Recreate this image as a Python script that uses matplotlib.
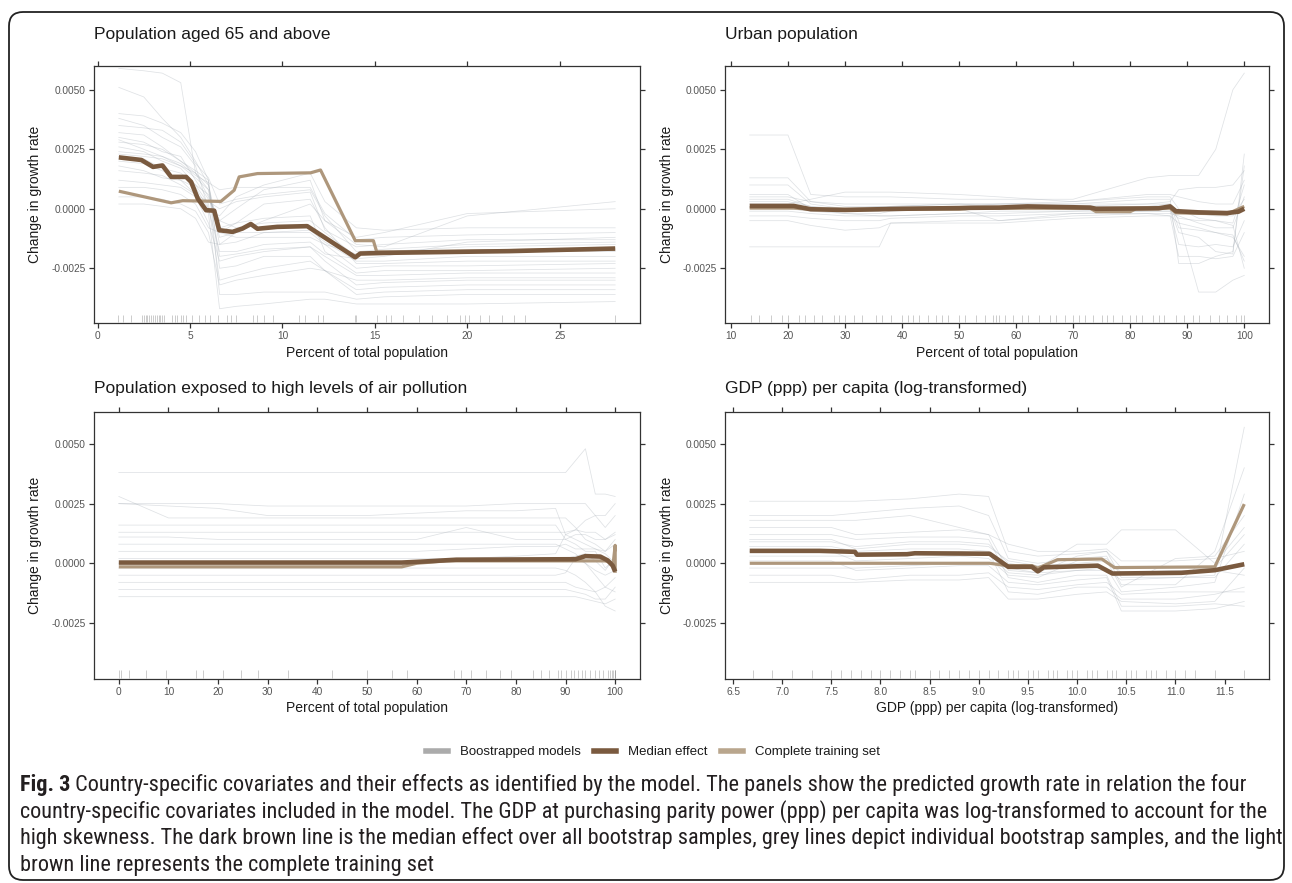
import numpy as np
import matplotlib
matplotlib.use('Agg')
import matplotlib.pyplot as plt
from matplotlib.lines import Line2D
from matplotlib.patches import FancyBboxPatch
from matplotlib import font_manager

# all growth-rate values below are in units of 1e-3
SCALE = 1e-3

# ---- Population aged 65 and above ----
age_grid = [1.15, 2.5, 3.5, 4.5, 5.3, 6.0, 6.6, 7.5, 9.0, 11.5, 12.3, 14.0, 15.5, 20.0, 28.0]
age_boot = [
    [5.9, 5.8, 5.7, 5.3, 1.5, 0.5, -0.5, -0.8, -0.6, -0.5, -1.0, -2.0, -1.8, -1.6, -1.5],
    [5.1, 4.7, 3.8, 3.0, 2.0, 1.0, -1.5, -1.4, -1.0, -1.0, -1.5, -2.5, -2.4, -2.4, -2.3],
    [4.0, 3.9, 3.6, 3.2, 2.4, 1.2, -3.6, -3.6, -3.5, -3.5, -3.5, -3.8, -3.7, -3.6, -3.6],
    [3.8, 3.5, 3.0, 2.6, 1.8, 0.0, -0.3, 0.5, 1.0, 1.5, 0.3, -0.8, -0.9, -0.8, -0.8],
    [3.2, 3.1, 2.6, 2.0, 1.6, 1.2, -2.5, -2.4, -2.0, -2.0, -2.6, -3.0, -3.0, -2.9, -2.9],
    [3.0, 2.8, 2.4, 2.2, 1.2, 0.4, -0.5, 0.0, 0.8, 1.2, -0.5, -1.2, -1.0, -0.2, 0.0],
    [2.8, 2.7, 2.5, 2.0, 1.5, 0.8, -1.2, -1.0, -1.0, -0.9, -1.4, -2.2, -2.2, -2.0, -2.0],
    [2.6, 2.4, 2.0, 1.7, 1.0, 0.2, -3.0, -2.8, -2.5, -2.2, -2.6, -3.4, -3.3, -3.2, -3.2],
    [2.4, 2.3, 2.2, 1.9, 1.4, 1.1, 0.8, 0.9, 0.9, 0.9, -0.2, -1.3, -1.2, -1.1, -1.0],
    [2.2, 2.1, 1.7, 1.5, 1.0, 0.6, -0.8, -0.6, -0.4, -0.3, -1.8, -2.7, -2.6, -2.6, -2.5],
    [2.0, 1.9, 1.6, 1.2, 0.9, 0.0, -1.8, -1.8, -1.5, -1.4, -1.9, -2.1, -2.0, -1.4, -1.2],
    [1.8, 1.6, 1.3, 1.2, 0.6, -0.2, -4.2, -4.1, -4.0, -3.8, -3.8, -4.0, -4.0, -4.0, -3.9],
    [1.6, 1.5, 1.4, 1.0, 0.6, 0.3, 0.0, 0.3, 0.5, 0.7, -0.9, -1.6, -1.5, -1.3, -1.3],
    [1.2, 1.1, 1.0, 0.9, 0.5, -0.6, -2.2, -2.0, -1.8, -1.6, -2.0, -2.8, -2.8, -2.7, -2.7],
    [0.9, 0.9, 0.8, 0.6, 0.2, -0.8, -1.0, -1.2, -1.2, -1.2, -1.5, -1.9, -1.9, -1.8, -1.8],
    [0.5, 0.5, 0.4, 0.2, -0.1, -1.0, -3.2, -3.0, -2.8, -2.5, -2.6, -3.6, -3.5, -3.4, -3.4],
    [0.2, 0.2, 0.1, 0.0, -0.4, -1.4, -1.5, -1.0, -0.5, 0.2, -0.5, -1.5, -1.6, -0.3, 0.3],
    [3.5, 3.4, 3.3, 2.8, 1.9, 1.3, 0.2, 0.4, 0.6, 0.8, -0.3, -1.8, -1.7, -1.5, -1.4],
    [2.9, 2.5, 2.2, 1.8, 1.3, 0.8, -2.0, -1.9, -1.7, -1.6, -2.2, -3.2, -3.1, -3.0, -3.0],
    [2.3, 2.2, 2.1, 1.8, 1.5, 1.0, -1.0, -0.6, 0.2, 0.4, -0.8, -2.3, -2.3, -2.2, -2.2],
]
age_median_x = [1.15, 2.37, 3.0, 3.51, 3.98, 4.79, 5.06, 5.42, 5.87, 6.31, 6.58, 7.30, 7.84,
                8.29, 8.65, 9.72, 11.34, 13.94, 14.21, 15.82, 22.28, 28.0]
age_median_y = [2.16, 2.05, 1.76, 1.82, 1.34, 1.34, 1.13, 0.43, -0.06, -0.08, -0.90, -0.97, -0.83,
                -0.64, -0.84, -0.76, -0.73, -2.04, -1.88, -1.85, -1.78, -1.67]
age_full_x = [1.15, 3.98, 4.61, 6.67, 7.39, 7.66, 8.65, 11.52, 12.06, 13.94, 14.92, 15.1, 16.0, 28.0]
age_full_y = [0.74, 0.25, 0.34, 0.31, 0.78, 1.34, 1.48, 1.51, 1.63, -1.34, -1.34, -1.81, -1.82, -1.70]
age_rug = [1.1, 1.4, 1.8, 2.4, 2.5, 2.6, 2.7, 2.8, 2.9, 3.0, 3.1, 3.2, 3.3, 3.4, 3.5, 3.6, 4.0, 4.2,
           4.3, 4.5, 4.6, 4.8, 5.1, 5.5, 5.8, 6.1, 6.5, 7.0, 7.2, 7.5, 8.4, 8.6, 9.0, 9.5, 10.9,
           11.2, 11.9, 12.2, 13.9, 14.0, 15.1, 15.6, 15.9, 16.5, 17.4, 18.1, 18.9, 19.6, 19.9,
           20.1, 20.7, 21.2, 21.9, 22.5, 23.1, 28.0]

# ---- Urban population ----
urban_grid = [13.3, 20, 24, 30, 36, 38, 50, 57, 70, 83, 87, 88.5, 92, 95, 98, 100]
urban_boot = [
    [3.1, 3.1, 0.6, 0.5, 0.5, 0.5, 0.4, 0.4, 0.4, 1.3, 1.4, 1.4, 1.4, 2.5, 5.0, 5.7],
    [1.3, 1.3, 0.3, 0.2, 0.2, 0.2, 0.2, 0.2, 0.2, 0.4, 0.4, -2.3, -2.3, -2.0, -1.8, 1.8],
    [1.0, 1.0, 0.2, 0.0, 0.0, 0.1, 0.2, 0.1, 0.1, 0.2, 0.2, -0.5, -3.5, -3.5, -3.0, -2.8],
    [0.6, 0.6, 0.0, -0.2, -0.3, -0.3, -0.2, -0.1, -0.1, 0.0, 0.0, -1.0, -1.2, -1.8, -1.9, 2.3],
    [0.5, 0.5, 0.3, 0.1, 0.1, 0.1, 0.2, 0.2, 0.3, 0.5, 0.5, 0.0, -0.4, -0.5, -0.6, 1.0],
    [0.3, 0.3, 0.1, 0.0, 0.1, 0.1, 0.1, 0.1, 0.1, 0.1, 0.2, -0.8, -0.9, -1.0, -1.2, -2.0],
    [-0.1, -0.1, -0.2, -0.3, -0.3, -0.3, -0.2, -0.2, -0.1, -0.1, -0.1, -1.5, -1.6, -1.5, -1.6, -0.5],
    [-0.3, -0.3, -0.4, -0.5, -0.5, -0.4, -0.3, -0.3, -0.2, -0.2, -0.2, -0.3, -0.6, -0.8, -0.8, 0.5],
    [-0.5, -0.5, -0.7, -0.9, -0.8, -0.6, -0.5, -0.5, -0.3, -0.2, -0.3, -2.0, -2.0, -2.1, -2.0, -1.0],
    [-1.6, -1.6, -1.6, -1.6, -1.6, -0.6, -0.6, -0.6, -0.4, -0.3, -0.3, -0.6, -0.8, -1.0, -1.1, -2.2],
    [0.2, 0.2, 0.4, 0.7, 0.7, 0.7, 0.6, 0.5, 0.3, 0.6, 0.6, 0.5, 0.3, 0.2, 0.2, 1.2],
    [0.4, 0.4, 0.1, -0.1, -0.1, 0.0, 0.0, 0.0, 0.1, 0.0, 0.1, -0.1, -0.2, -0.3, -0.3, 0.4],
    [0.0, 0.0, -0.1, -0.2, -0.2, -0.1, 0.0, -0.5, -0.2, -0.1, -0.1, -0.4, -0.5, -0.5, -0.7, -2.5],
    [0.1, 0.1, 0.0, -0.1, -0.1, 0.0, 0.1, 0.2, 0.2, 0.2, 0.3, 0.8, 0.9, 0.9, 1.0, 1.6],
]
urban_median_x = [13.3, 21, 24, 30, 40, 50, 52, 57, 62, 73, 74, 85, 87, 88, 92, 97, 99, 100]
urban_median_y = [0.12, 0.12, -0.02, -0.05, 0.0, 0.03, 0.04, 0.05, 0.1, 0.05, 0.0, 0.02, 0.1,
                  -0.1, -0.15, -0.18, -0.12, 0.0]
urban_full_x = [13.3, 21, 24, 50, 52, 73, 74, 80, 81, 87, 88, 97, 100]
urban_full_y = [0.03, 0.03, -0.02, -0.02, 0.02, 0.02, -0.12, -0.12, 0.0, 0.02, -0.17, -0.22, 0.1]
urban_rug = [13.5, 15, 17, 19, 20, 22, 23, 24.5, 26, 28, 29, 30, 31.5, 33, 35.5, 36.5, 38, 40, 41,
             42, 43, 44.5, 46, 47, 48, 50, 51, 53, 54.5, 56, 56.5, 57, 58, 59.5, 61, 62, 64, 66,
             67, 68.5, 70, 71, 72, 73.5, 75, 76, 77, 78.5, 80, 81, 82, 84, 85, 86, 88, 89.5, 91,
             92, 94, 95.5, 97, 98.5, 99.5, 100]

# ---- Population exposed to high levels of air pollution ----
air_grid = [0, 10, 20, 30, 40, 50, 60, 70, 80, 88, 90, 92, 94, 96, 98, 100]
air_boot = [
    [3.8, 3.8, 3.8, 3.8, 3.8, 3.8, 3.8, 3.8, 3.8, 3.8, 3.8, 4.3, 4.8, 2.9, 2.9, 2.8],
    [2.8, 1.9, 1.9, 1.9, 1.9, 1.9, 1.9, 1.9, 1.9, 1.9, 1.9, 1.5, 1.0, 0.8, 0.5, 1.0],
    [2.5, 2.5, 2.5, 2.4, 2.4, 2.4, 2.4, 2.4, 2.5, 2.5, 2.5, 2.5, 2.5, 2.0, 1.5, 2.0],
    [2.5, 2.4, 2.3, 2.0, 2.0, 2.0, 2.1, 2.2, 2.2, 2.3, 1.2, 1.4, 1.8, 2.0, 2.0, 2.5],
    [1.6, 1.6, 1.6, 1.6, 1.6, 1.6, 1.6, 1.6, 1.6, 1.6, 1.0, 0.8, 0.5, 0.5, -0.2, 0.2],
    [1.1, 1.1, 1.0, 1.0, 1.0, 1.0, 1.0, 1.5, 1.0, 1.0, 1.0, 1.2, 1.2, 1.0, 1.0, 1.3],
    [0.8, 0.8, 0.8, 0.8, 0.8, 0.8, 0.8, 0.8, 0.8, 0.8, 0.6, 0.4, 0.0, -0.5, -1.0, -1.2],
    [0.5, 0.5, 0.5, 0.5, 0.5, 0.5, 0.5, 0.6, 0.7, 0.7, 0.8, 0.6, 0.6, 0.6, 0.5, 0.8],
    [0.2, 0.2, 0.2, 0.2, 0.2, 0.2, 0.2, 0.2, 0.3, 0.4, 1.2, 1.0, 0.8, 0.6, 0.4, 0.0],
    [-0.2, -0.2, -0.2, -0.2, -0.2, -0.2, -0.2, -0.2, -0.2, -0.2, -0.3, -0.5, -0.8, -1.2, -1.0, -0.6],
    [-0.5, -0.5, -0.5, -0.5, -0.5, -0.5, -0.5, -0.5, -0.5, -0.5, -0.4, 0.2, 0.0, -0.3, -0.5, -0.3],
    [-0.8, -0.8, -0.8, -0.8, -0.8, -0.8, -0.8, -0.8, -0.8, -0.8, -0.8, -1.0, -1.1, -1.2, -1.8, -2.0],
    [-1.1, -1.1, -1.1, -1.1, -1.1, -1.1, -1.1, -1.1, -1.1, -1.1, -1.1, -1.2, -1.3, -1.5, -1.5, -1.0],
    [-1.4, -1.4, -1.4, -1.4, -1.4, -1.4, -1.4, -1.4, -1.4, -1.4, -1.4, -1.4, -1.5, -1.6, -1.7, -1.5],
    [1.3, 1.3, 1.3, 1.3, 1.3, 1.3, 1.3, 1.3, 1.3, 1.3, 1.3, 1.4, 1.3, 1.3, 1.0, 1.2],
    [0.0, 0.0, 0.0, 0.0, 0.0, 0.0, 0.0, 0.1, 0.2, 0.2, 0.2, 0.3, 0.4, 0.1, -0.3, 0.3],
]
air_median_x = [0, 57, 62, 68, 92, 94, 97, 98.5, 99.5, 100]
air_median_y = [0.03, 0.03, 0.08, 0.15, 0.17, 0.3, 0.28, 0.12, -0.1, -0.35]
air_full_x = [0, 57, 60, 66, 98, 99.6, 100, 100]
air_full_y = [-0.15, -0.15, 0.0, 0.1, 0.1, 0.0, 0.75, -0.4]
air_rug = [0, 0.5, 2, 5.4, 9.6, 15.5, 17, 21, 24.7, 28, 34, 43, 50, 55, 58, 67.5, 69, 71, 74, 76.7,
           79, 83.4, 85, 86.7, 88.4, 89, 90, 91, 91.8, 92.5, 93.4, 94, 95, 96, 96.8, 97.5, 98.5,
           99, 99.3, 99.6, 100, 100, 100]

# ---- GDP (ppp) per capita (log-transformed) ----
gdp_grid = [6.67, 7.5, 7.75, 8.3, 8.8, 9.1, 9.3, 9.6, 10.0, 10.3, 10.45, 11.0, 11.4, 11.7]
gdp_boot = [
    [2.6, 2.6, 2.6, 2.7, 2.9, 2.8, 0.5, 0.3, 0.4, 0.5, -0.6, -0.6, -0.5, 5.7],
    [2.0, 2.0, 2.1, 2.3, 2.4, 2.0, 0.2, 0.0, 0.2, 0.3, -0.9, -0.9, 0.5, 4.0],
    [1.5, 1.5, 1.2, 1.3, 1.4, 1.2, -0.3, -0.4, -0.3, -0.2, -1.2, -1.0, -0.8, 2.9],
    [1.2, 1.2, 1.0, 1.1, 1.1, 1.0, -0.6, -0.8, -0.5, -0.5, -1.8, -1.8, -1.7, -1.8],
    [0.9, 0.9, 0.7, 0.9, 0.9, 0.8, 0.0, -0.2, 0.8, 0.8, 1.4, 1.4, 0.0, 1.5],
    [0.7, 0.7, 0.5, 0.6, 0.6, 0.5, -1.2, -1.3, -1.0, -1.0, -1.5, -1.5, -1.3, -1.0],
    [0.3, 0.3, 0.3, 0.4, 0.5, 0.4, -0.4, -0.5, -0.3, -0.3, -0.7, -0.6, -0.6, 0.8],
    [0.1, 0.1, -0.3, -0.2, -0.1, -0.1, -0.8, -0.9, -0.7, -0.6, -2.0, -2.0, -1.9, -1.6],
    [-0.2, -0.2, -0.2, -0.1, 0.0, 0.0, -0.2, -0.4, 0.3, 0.5, -0.2, -0.2, -0.2, 1.2],
    [-0.5, -0.5, -0.7, -0.5, -0.5, -0.4, -1.0, -1.1, -0.9, -0.8, -1.3, -1.2, -1.2, -1.2],
    [-0.8, -0.8, -0.8, -0.7, -0.7, -0.6, -1.5, -1.5, -1.3, -1.2, -1.6, -1.7, -1.6, -0.2],
    [1.8, 1.8, 1.8, 2.0, 1.5, 1.2, 0.8, 0.5, 0.5, 0.6, 0.1, 0.1, 0.2, 0.5],
    [0.5, 0.5, 0.1, 0.2, 0.3, 0.2, -0.5, -0.6, 0.1, 0.2, -0.4, -0.3, -0.3, -0.5],
    [1.0, 1.0, 0.6, 0.8, 0.8, 0.7, 0.1, -0.1, 0.0, 0.1, -1.0, 0.2, 0.3, 2.0],
]
gdp_median_x = [6.67, 7.38, 7.74, 7.76, 8.27, 8.35, 9.11, 9.30, 9.54, 9.60, 9.66, 10.21, 10.36,
                11.06, 11.40, 11.70]
gdp_median_y = [0.52, 0.52, 0.48, 0.36, 0.38, 0.42, 0.40, -0.15, -0.15, -0.34, -0.17, -0.10,
                -0.43, -0.40, -0.29, -0.04]
gdp_full_x = [6.67, 9.11, 9.30, 9.54, 9.60, 9.66, 9.80, 10.25, 10.38, 11.40, 11.70]
gdp_full_y = [0.0, 0.0, -0.1, -0.1, -0.2, -0.1, 0.15, 0.18, -0.18, -0.15, 2.48]
gdp_rug = [6.7, 6.9, 7.1, 7.3, 7.5, 7.6, 7.7, 7.8, 7.9, 8.0, 8.1, 8.2, 8.3, 8.35, 8.5, 8.6, 8.7,
           8.8, 8.9, 9.0, 9.1, 9.2, 9.3, 9.35, 9.4, 9.5, 9.55, 9.6, 9.7, 9.75, 9.8, 9.9, 9.95,
           10.0, 10.1, 10.15, 10.2, 10.3, 10.35, 10.4, 10.5, 10.55, 10.6, 10.7, 10.75, 10.8,
           10.9, 11.0, 11.1, 11.2, 11.4, 11.7]

y_ticks = [-0.0025, 0.0, 0.0025, 0.0050]
legend_labels = ['Boostrapped models', 'Median effect', 'Complete training set']
caption_bold = 'Fig. 3'
caption_lines = [
    ' Country-specific covariates and their effects as identified by the model. The panels show the predicted growth rate in relation the four',
    'country-specific covariates included in the model. The GDP at purchasing parity power (ppp) per capita was log-transformed to account for the',
    'high skewness. The dark brown line is the median effect over all bootstrap samples, grey lines depict individual bootstrap samples, and the light',
    'brown line represents the complete training set',
]

C_BOOT = '#a4acb4'
C_MED = '#7a5a3f'
C_FULL = '#ae977c'
C_AXIS = '#333333'

W, H = 1292, 883
plt.rcParams['font.family'] = ['Liberation Sans', 'DejaVu Sans']
fig = plt.figure(figsize=(W / 100, H / 100), dpi=100)


def px_rect(left, top, right, bottom):
    return [left / W, 1 - bottom / H, (right - left) / W, (bottom - top) / H]


def draw_panel(rect, grid, boot, mx, my, fx, fy, rug, xticks, xfmt, ylim, title, xlabel, title_y):
    ax = fig.add_axes(px_rect(*rect))
    for line in boot:
        ax.plot(grid, np.array(line) * SCALE, color=C_BOOT, lw=0.55, alpha=0.35, zorder=2)
    ax.plot(fx, np.array(fy) * SCALE, color=C_FULL, lw=2.3, zorder=3, solid_capstyle='butt')
    ax.plot(mx, np.array(my) * SCALE, color=C_MED, lw=3.3, zorder=4, solid_capstyle='butt')
    # rug of observed covariate values
    ax.vlines(rug, 0.004, 0.032, transform=ax.get_xaxis_transform(),
              color='#8f8f8f', lw=0.7, alpha=0.45, zorder=1)

    lo, hi = min(grid), max(grid)
    pad = 0.05 * (hi - lo)
    ax.set_xlim(lo - pad, hi + pad)
    ax.set_ylim(ylim)
    ax.set_xticks(xticks)
    ax.set_xticklabels([xfmt.format(v) for v in xticks])
    ax.set_yticks(y_ticks)
    ax.set_yticklabels(['{:.4f}'.format(v) for v in y_ticks])
    ax.tick_params(direction='out', length=3.5, width=0.9, color=C_AXIS, labelsize=7.3,
                   labelcolor='#555555', top=True, right=True, pad=2.5)
    for s in ax.spines.values():
        s.set_color(C_AXIS)
        s.set_linewidth(0.9)

    ax.set_xlabel(xlabel, fontsize=10, color='#1a1a1a')
    ax.set_ylabel('Change in growth rate', fontsize=10, color='#1a1a1a')
    ax.xaxis.label.set_va('center')
    ax.yaxis.label.set_va('center')
    l, t, r, b = rect
    ax.xaxis.set_label_coords(0.5, -(30 if b < 400 else 29) / (b - t))
    ax.yaxis.set_label_coords(-(59 if l < 400 else 58) / (r - l), 0.5)
    fig.text(l / W, 1 - title_y / H, title, fontsize=12.5, color='#1a1a1a', ha='left', va='center')
    return ax


top_lim = (-0.0048, 0.0060)
bot_lim = (-0.00485, 0.00634)

draw_panel((94, 66, 640, 323), age_grid, age_boot, age_median_x, age_median_y, age_full_x, age_full_y,
           age_rug, [0, 5, 10, 15, 20, 25], '{:g}', top_lim,
           'Population aged 65 and above', 'Percent of total population', 34)
draw_panel((725, 66, 1269, 323), urban_grid, urban_boot, urban_median_x, urban_median_y,
           urban_full_x, urban_full_y, urban_rug, list(range(10, 101, 10)), '{:g}', top_lim,
           'Urban population', 'Percent of total population', 34)
draw_panel((94, 412, 640, 679), air_grid, air_boot, air_median_x, air_median_y, air_full_x, air_full_y,
           air_rug, list(range(0, 101, 10)), '{:g}', bot_lim,
           'Population exposed to high levels of air pollution', 'Percent of total population', 388)
draw_panel((725, 412, 1269, 679), gdp_grid, gdp_boot, gdp_median_x, gdp_median_y, gdp_full_x, gdp_full_y,
           gdp_rug, [6.5 + 0.5 * i for i in range(11)], '{:.1f}', bot_lim,
           'GDP (ppp) per capita (log-transformed)', 'GDP (ppp) per capita (log-transformed)', 388)

# legend
handles = [Line2D([], [], color='#ababab', lw=4),
           Line2D([], [], color=C_MED, lw=4),
           Line2D([], [], color='#b9a68d', lw=4)]
fig.legend(handles, legend_labels, loc='center', bbox_to_anchor=(653 / W, 1 - 752 / H), ncol=3,
           frameon=False, fontsize=9.5, handlelength=1.7, handletextpad=0.9, columnspacing=1.0,
           labelcolor='#1a1a1a')

# caption: pick a narrow face if one exists, then size it so the longest line fits
names = {f.name for f in font_manager.fontManager.ttflist}
cap_family = next((n for n in ['Liberation Sans Narrow', 'Roboto Condensed', 'Open Sans Condensed',
                               'Liberation Sans'] if n in names), 'DejaVu Sans')
fig.canvas.draw()
rend = fig.canvas.get_renderer()
probe = fig.text(0, 0, caption_lines[2], fontsize=10, family=cap_family)
cap_size = 10 * 1252 / probe.get_window_extent(rend).width
probe.remove()

cap_x = 20
cap_y = [785, 812, 838, 865]
bold = fig.text(cap_x / W, 1 - cap_y[0] / H, caption_bold, fontsize=cap_size, family=cap_family,
                weight='bold', va='center', color='#231f20')
bw = bold.get_window_extent(rend).width
for i, line in enumerate(caption_lines):
    x0 = cap_x + (bw if i == 0 else 0)
    fig.text(x0 / W, 1 - cap_y[i] / H, line, fontsize=cap_size, family=cap_family,
             va='center', color='#231f20')

# rounded frame round the whole figure
frame = FancyBboxPatch((0.09, 0.03), 12.75, 8.68, boxstyle='round,pad=0,rounding_size=0.14',
                       transform=fig.dpi_scale_trans, fill=False, ec='#222222', lw=1.3)
fig.patches.append(frame)

fig.savefig('out.png', dpi=100)
